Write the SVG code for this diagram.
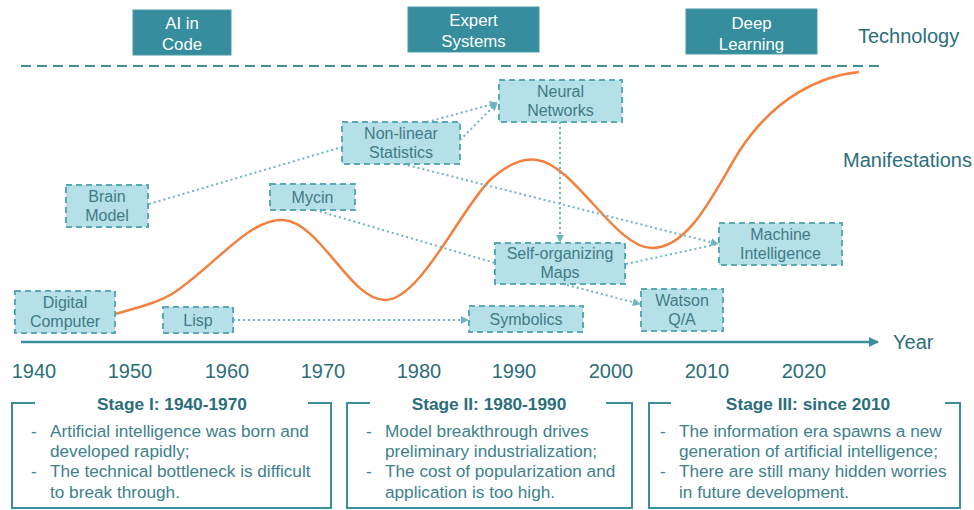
<svg xmlns="http://www.w3.org/2000/svg" width="974" height="510" viewBox="0 0 974 510">
<style>
text{font-family:"Liberation Sans",Arial,sans-serif}
.tech rect{fill:#358d9d;stroke:#4a9aa8;stroke-width:1}
.tech text{fill:#ffffff;font-size:16.8px;text-anchor:middle}
.node rect{fill:#b6e0e7;stroke:#5ba9b5;stroke-width:2;stroke-dasharray:6 4}
.node text{fill:#3f7b86;font-size:16px;text-anchor:middle}
.conn{fill:none;stroke:#6db5c0;stroke-width:2;stroke-dasharray:2 3}
.lbl{fill:#2b6e7a;font-size:20px}
.yr{fill:#2b6e7a;font-size:20px;text-anchor:middle}
.frame{fill:none;stroke:#3a8e9e;stroke-width:2}
.st{fill:#2b6e7a;font-size:17.3px;font-weight:bold;text-anchor:middle}
.bl{fill:#3e818c;font-size:17.2px}
</style>
<defs>
<marker id="arr" viewBox="0 0 10 10" refX="9" refY="5" markerWidth="4" markerHeight="4" orient="auto" markerUnits="strokeWidth">
<path d="M0,0 L10,5 L0,10 z" fill="#6db5c0"/>
</marker>
<marker id="axarr" viewBox="0 0 10 10" refX="9" refY="5" markerWidth="4" markerHeight="4" orient="auto" markerUnits="strokeWidth">
<path d="M0,0 L10,5 L0,10 z" fill="#3a8e9e"/>
</marker>
</defs>

<!-- technology boxes -->
<g id="tech-ai-code" class="tech"><rect x="133" y="10" width="98" height="45"/><text x="182" y="29">AI in</text><text x="182" y="50">Code</text></g>
<g id="tech-expert" class="tech"><rect x="408" y="7" width="131" height="45"/><text x="473.5" y="26">Expert</text><text x="473.5" y="47">Systems</text></g>
<g id="tech-deep" class="tech"><rect x="686" y="9" width="131" height="45"/><text x="751.5" y="29">Deep</text><text x="751.5" y="50">Learning</text></g>

<text class="lbl" x="858" y="43">Technology</text>
<text class="lbl" x="843" y="167">Manifestations</text>
<line x1="21" y1="66" x2="880" y2="66" stroke="#3a8e9e" stroke-width="2" stroke-dasharray="10 6"/>

<!-- orange curve -->
<path d="M115,314 C140,307 160,302 175,292 C215,265 250,218 283,220 C320,222 350,300 385,300 C420,300 460,210 490,180 C510,162 525,158 537,160 C575,165 615,248 652,248 C690,248 715,190 740,150 C775,97 820,76 859,72" fill="none" stroke="#f2813f" stroke-width="2.5"/>

<!-- connectors -->
<g id="connectors">
<path class="conn" d="M149,204 L342,147"/>
<path class="conn" d="M427,122 L497,103" marker-end="url(#arr)"/>
<path class="conn" d="M460,140 L497,103" marker-end="url(#arr)"/>
<path class="conn" d="M403,164 L718,244" marker-end="url(#arr)"/>
<path class="conn" d="M315,210 L495,263"/>
<path class="conn" d="M560,122 L560,242" marker-end="url(#arr)"/>
<path class="conn" d="M626,264 L718,244"/>
<path class="conn" d="M567,285 L640,304" marker-end="url(#arr)"/>
<path class="conn" d="M233,320 L468,320" marker-end="url(#arr)"/>
</g>

<!-- manifestation nodes -->
<g id="brain-model" class="node"><rect x="66" y="185" width="82" height="42"/><text x="107" y="202">Brain</text><text x="107" y="221">Model</text></g>
<g id="mycin" class="node"><rect x="270" y="184" width="85" height="26"/><text x="312.5" y="203">Mycin</text></g>
<g id="digital-computer" class="node"><rect x="15" y="291" width="100" height="42"/><text x="65" y="308">Digital</text><text x="65" y="327">Computer</text></g>
<g id="lisp" class="node"><rect x="163" y="307" width="70" height="26"/><text x="198" y="326">Lisp</text></g>
<g id="symbolics" class="node"><rect x="469" y="306" width="114" height="26"/><text x="526" y="325">Symbolics</text></g>
<g id="non-linear-statistics" class="node"><rect x="342" y="122" width="118" height="42"/><text x="401" y="139">Non-linear</text><text x="401" y="158">Statistics</text></g>
<g id="neural-networks" class="node"><rect x="499" y="80" width="123" height="42"/><text x="560.5" y="97">Neural</text><text x="560.5" y="116">Networks</text></g>
<g id="self-organizing-maps" class="node"><rect x="495" y="243" width="130" height="41"/><text x="560" y="259">Self-organizing</text><text x="560" y="278">Maps</text></g>
<g id="watson-qa" class="node"><rect x="641" y="289" width="82" height="42"/><text x="682" y="306">Watson</text><text x="682" y="325">Q/A</text></g>
<g id="machine-intelligence" class="node"><rect x="719" y="223" width="123" height="42"/><text x="780.5" y="240">Machine</text><text x="780.5" y="259">Intelligence</text></g>

<!-- axis -->
<line x1="21" y1="342" x2="878" y2="342" stroke="#3a8e9e" stroke-width="2.5" marker-end="url(#axarr)"/>
<text class="lbl" x="893" y="349">Year</text>
<g class="yr">
<text x="34" y="378">1940</text>
<text x="130" y="378">1950</text>
<text x="227" y="378">1960</text>
<text x="323" y="378">1970</text>
<text x="419" y="378">1980</text>
<text x="514" y="378">1990</text>
<text x="611" y="378">2000</text>
<text x="707" y="378">2010</text>
<text x="804" y="378">2020</text>
</g>

<!-- stages -->
<g id="stage-1">
<path class="frame" d="M35,403 H12 V508 H331 V403 H308"/>
<text class="st" x="172" y="410">Stage I: 1940-1970</text>
<text class="bl" x="31" y="437">-</text><text class="bl" x="50" y="437">Artificial intelligence was born and</text>
<text class="bl" x="50" y="457">developed rapidly;</text>
<text class="bl" x="31" y="477">-</text><text class="bl" x="50" y="477">The technical bottleneck is difficult</text>
<text class="bl" x="50" y="498">to break through.</text>
</g>
<g id="stage-2">
<path class="frame" d="M370,403 H347 V508 H632 V403 H606"/>
<text class="st" x="489" y="410">Stage II: 1980-1990</text>
<text class="bl" x="366" y="437">-</text><text class="bl" x="385" y="437">Model breakthrough drives</text>
<text class="bl" x="385" y="457">preliminary industrialization;</text>
<text class="bl" x="366" y="477">-</text><text class="bl" x="385" y="477">The cost of popularization and</text>
<text class="bl" x="385" y="498">application is too high.</text>
</g>
<g id="stage-3">
<path class="frame" d="M671,403 H649 V508 H960 V403 H945"/>
<text class="st" x="808" y="410">Stage III: since 2010</text>
<text class="bl" x="660" y="437">-</text><text class="bl" x="679" y="437">The information era spawns a new</text>
<text class="bl" x="679" y="457">generation of artificial intelligence;</text>
<text class="bl" x="660" y="477">-</text><text class="bl" x="679" y="477">There are still many hidden worries</text>
<text class="bl" x="679" y="498">in future development.</text>
</g>
</svg>
